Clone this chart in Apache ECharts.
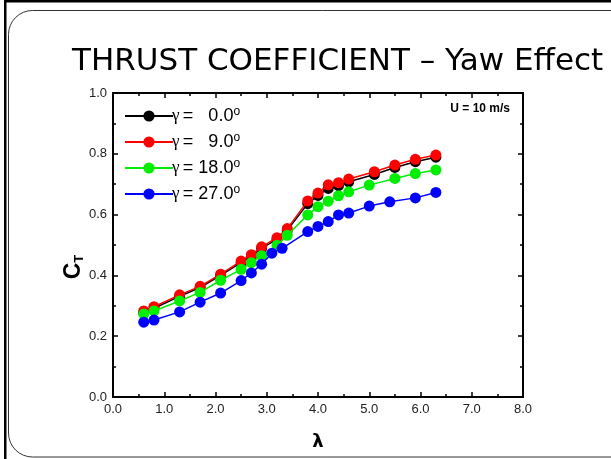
<!DOCTYPE html>
<html><head><meta charset="utf-8">
<script src="https://cdn.jsdelivr.net/npm/echarts@6/dist/echarts.min.js"></script>
<style>html,body{margin:0;padding:0;background:#fff}#c{width:611px;height:459px}</style>
</head><body><div id="c"></div>
<script>
const xTicks = [0,1,2,3,4,5,6,7,8];
const yTicks = [0,0.2,0.4,0.6,0.8,1.0];
const seriesNames = ['γ = 0.0', 'γ = 9.0', 'γ = 18.0', 'γ = 27.0'];
const legendLabels = ['0.0', '9.0', '18.0', '27.0'];
const colors = ['#000000', '#ff0000', '#00ee00', '#0000ff'];
const blackX = [0.6,0.8,1.3,1.7,2.1,2.5,2.7,2.9,3.2,3.4,3.8,4.0,4.2,4.4,4.6,5.1,5.5,5.9,6.3];
const blackY = [0.278,0.292,0.331,0.360,0.400,0.442,0.463,0.489,0.519,0.548,0.636,0.663,0.686,0.695,0.708,0.732,0.755,0.774,0.789];
const redX = [0.6,0.8,1.3,1.7,2.1,2.5,2.7,2.9,3.2,3.4,3.8,4.0,4.2,4.4,4.6,5.1,5.5,5.9,6.3];
const redY = [0.283,0.297,0.336,0.364,0.404,0.447,0.468,0.494,0.524,0.554,0.645,0.671,0.698,0.705,0.717,0.741,0.763,0.782,0.796];
const greenX = [0.6,0.8,1.3,1.7,2.1,2.5,2.7,2.9,3.2,3.4,3.8,4.0,4.2,4.4,4.6,5.0,5.5,5.9,6.3];
const greenY = [0.273,0.283,0.316,0.344,0.384,0.420,0.442,0.465,0.499,0.532,0.599,0.626,0.644,0.662,0.675,0.697,0.719,0.735,0.747];
const blueX = [0.6,0.8,1.3,1.7,2.1,2.5,2.7,2.9,3.1,3.3,3.8,4.0,4.2,4.4,4.6,5.0,5.4,5.9,6.3];
const blueY = [0.246,0.253,0.280,0.312,0.342,0.383,0.408,0.437,0.473,0.489,0.544,0.561,0.577,0.599,0.605,0.628,0.642,0.655,0.673];

const xs = [blackX, redX, greenX, blueX];
const ys = [blackY, redY, greenY, blueY];

const chart = echarts.init(document.getElementById('c'), null, {renderer: 'canvas'});
const font = 'Liberation Sans, Arial, sans-serif';
const tickStyle = {show: true, inside: true, length: 5, lineStyle: {color: '#000', width: 1.5}};
const minorStyle = {show: true, splitNumber: 2, length: 3, lineStyle: {color: '#000', width: 1.5}};
const axLine = {show: true, onZero: false, lineStyle: {color: '#000', width: 2}};

const series = seriesNames.map((n, i) => ({
  name: n,
  type: 'line',
  data: xs[i].map((x, j) => [x, ys[i][j]]),
  symbol: 'circle',
  symbolSize: 11,
  lineStyle: {color: colors[i], width: 1.5},
  itemStyle: {color: colors[i]},
  z: 2 + i,
  animation: false
}));

function legendText(n) {
  const lab = legendLabels[seriesNames.indexOf(n)];
  const pad = lab.length < 4 ? '{h|1}' : '';
  return '{g|γ} {e|= }' + pad + '{t|' + lab + '}{s|o}';
}

chart.setOption({
  animation: false,
  backgroundColor: '#fff',
  title: {
    text: 'THRUST COEFFICIENT – Yaw Effect',
    left: 67, top: 41,
    textStyle: {fontFamily: 'DejaVu Sans', fontSize: 31, fontWeight: 'normal', color: '#000'}
  },
  grid: {left: 113, right: 88, top: 93, bottom: 62},
  xAxis: [{
    type: 'value', min: 0, max: 8, interval: 1,
    axisLine: axLine, axisTick: tickStyle, minorTick: minorStyle,
    splitLine: {show: false},
    axisLabel: {margin: 6, fontFamily: font, fontSize: 13, color: '#222', formatter: v => v.toFixed(1)},
    name: 'λ', nameLocation: 'middle', nameGap: 36,
    nameTextStyle: {fontFamily: 'DejaVu Sans', fontWeight: 'bold', fontSize: 18, color: '#000'}
  }, {
    type: 'value', min: 0, max: 8, interval: 1, position: 'top',
    axisLine: axLine, axisTick: tickStyle, minorTick: minorStyle,
    splitLine: {show: false}, axisLabel: {show: false}
  }],
  yAxis: [{
    type: 'value', min: 0, max: 1, interval: 0.2,
    axisLine: axLine, axisTick: tickStyle, minorTick: minorStyle,
    splitLine: {show: false},
    axisLabel: {margin: 6, fontFamily: font, fontSize: 13, color: '#222', formatter: v => v.toFixed(1)}
  }, {
    type: 'value', min: 0, max: 1, interval: 0.2, position: 'right',
    axisLine: axLine, axisTick: tickStyle, minorTick: minorStyle,
    splitLine: {show: false}, axisLabel: {show: false}
  }],
  legend: {
    orient: 'vertical', left: 119, top: 101,
    itemWidth: 48, itemHeight: 14, itemGap: 6,
    data: seriesNames,
    formatter: legendText,
    textStyle: {
      padding: [0,0,0,-6],
      rich: {
        g: {fontFamily: 'Liberation Serif', fontSize: 17, color: '#000', lineHeight: 20},
        e: {fontFamily: font, fontSize: 18, color: '#000', lineHeight: 20},
        h: {fontFamily: font, fontSize: 18, color: 'rgba(0,0,0,0)', lineHeight: 20},
        t: {fontFamily: font, fontSize: 18, color: '#000', lineHeight: 20},
        s: {fontFamily: font, fontSize: 12, color: '#000', verticalAlign: 'top', lineHeight: 20, padding: [0,0,8,0]}
      }
    }
  },
  graphic: [
    {type: 'rect', shape: {x: 8.5, y: 10.5, width: 640, height: 446.5, r: 24}, style: {fill: 'none', stroke: '#333', lineWidth: 1}, silent: true, z: -1},
    {type: 'rect', shape: {x: 4, y: 0, width: 2.5, height: 459}, style: {fill: '#000'}, silent: true},
    {type: 'rect', shape: {x: 4, y: 0, width: 607, height: 2.5}, style: {fill: '#000'}, silent: true},
    {type: 'text', right: 101, top: 103, style: {text: 'U = 10 m/s', font: 'bold 12px Liberation Sans, Arial', fill: '#000'}},
    {type: 'text', x: 74, y: 267, rotation: Math.PI / 2, silent: true,
     style: {text: '{c|C}{t|T}', align: 'center', verticalAlign: 'middle',
       rich: {
         c: {fontFamily: font, fontWeight: 'bold', fontSize: 23, fill: '#000', verticalAlign: 'bottom'},
         t: {fontFamily: font, fontWeight: 'bold', fontSize: 13, fill: '#000', verticalAlign: 'bottom'}
       }}}
  ],
  series: series
});
</script></body></html>
